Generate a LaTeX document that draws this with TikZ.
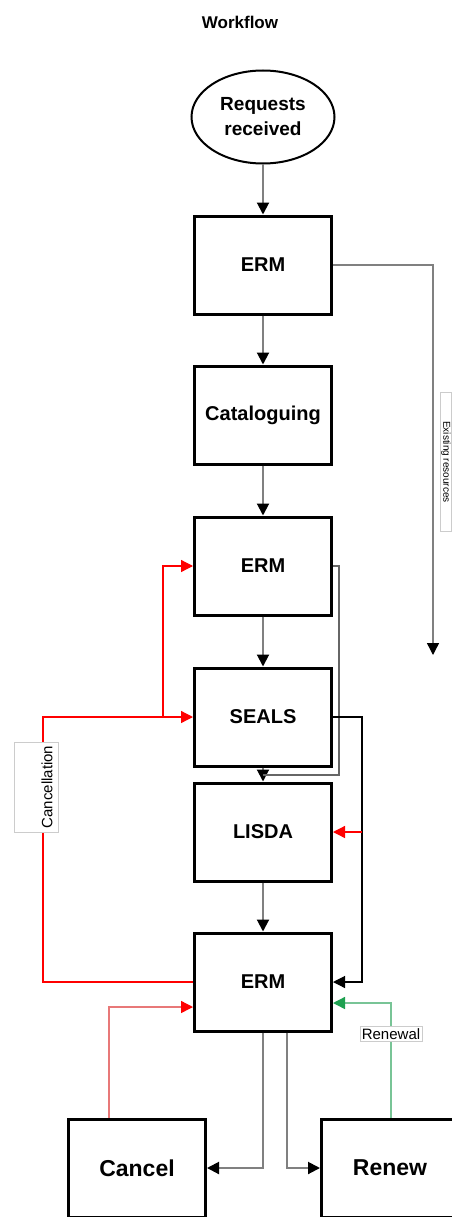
\documentclass[tikz,border=0pt]{standalone}
\usepackage{fontspec}
\setmainfont{Liberation Sans}
\usetikzlibrary{arrows.meta,shapes.geometric}
\definecolor{flowgray}{RGB}{128,128,128}
\definecolor{cancelred}{RGB}{255,0,0}
\definecolor{palered}{RGB}{232,120,120}
\definecolor{renewgreen}{RGB}{30,160,80}
\definecolor{palegreen}{RGB}{120,196,150}
\begin{document}
\begin{tikzpicture}[x=1pt,y=-1pt,
  stepbox/.style={draw=black, line width=3pt, fill=white, minimum width=137pt,
    minimum height=98pt, inner sep=0pt, font=\fontsize{20}{22}\selectfont\bfseries},
  endbox/.style={stepbox, font=\fontsize{23}{25}\selectfont\bfseries},
  tip/.style={-{Triangle[length=12pt,width=12pt,color=#1]}},
  tip/.default=black,
  flow/.style={draw=flowgray, line width=2pt, tip},
  thinflow/.style={draw=flowgray, line width=1.4pt},
  redflow/.style={draw=cancelred, line width=1.3pt, tip=cancelred},
  lbl/.style={draw=black!20, fill=white, line width=0.6pt, inner sep=2pt,
    font=\fontsize{15}{17}\selectfont},
]
\useasboundingbox (0,0) rectangle (452,1217);
\fill[white] (0,0) rectangle (452,1217);

% title
\node[font=\fontsize{17}{19}\selectfont\bfseries] (title) at (240,22) {Workflow};

% process steps
\node[ellipse, draw=black, line width=2pt, fill=white, minimum width=143pt,
  minimum height=93pt, inner sep=0pt, align=center,
  font=\fontsize{19}{25}\selectfont\bfseries] (req) at (263,117) {Requests\\received};
\node[stepbox] (erm1) at (263,265) {ERM};
\node[stepbox] (cat)  at (263,415) {Cataloguing};
\node[stepbox] (erm2) at (263,566) {ERM};
\node[stepbox] (seals) at (263,717) {SEALS};
\node[stepbox] (lisda) at (263,832) {LISDA};
\node[stepbox] (erm3) at (263,982) {ERM};
\node[endbox] (cancel) at (137,1168) {Cancel};
\node[endbox] (renew)  at (390,1168) {Renew};

% main line down the middle
\draw[flow] (req) -- (erm1);
\draw[flow] (erm1) -- (cat);
\draw[flow] (cat) -- (erm2);
\draw[flow] (erm2) -- (seals);
\draw[flow] (seals) -- (lisda);
\draw[flow] (lisda) -- (erm3);

% existing resources branch
\coordinate (exend) at (433,655);
\draw[thinflow, tip] (erm1.east) -| (exend);
\node[draw=black!20, fill=white, line width=0.6pt, inner sep=1pt, rotate=-90,
  minimum width=139pt, font=\fontsize{10}{11}\selectfont] (exlbl) at (446,462) {Existing resources};

% ERM back into LISDA
\coordinate (join) at (263,775);
\draw[draw=black!60, line width=1.4pt] (erm2.east) -- (339,566) |- (join);

% SEALS on to the final ERM
\coordinate (sealsr) at (362,717);
\coordinate (lisdar) at (362,832);
\draw[draw=black, line width=1.2pt, tip] (seals.east) -- (sealsr) |- (erm3.east);
\draw[redflow] (lisdar) -- (lisda.east);

% cancellation loop
\coordinate (cl) at (43,982);
\coordinate (cb) at (163,717);
\draw[redflow] (erm3.west) -- (cl) |- (seals.west);
\draw[redflow] (cb) |- (erm2.west);
\node[draw=black!20, fill=white, line width=0.6pt, minimum width=44pt,
  minimum height=90pt, inner sep=0pt] (cancelframe) at (36,787) {};
\node[rotate=90, font=\fontsize{15}{17}\selectfont, inner sep=0pt] (cancellbl) at (47,787) {Cancellation};

% outcomes
\draw[draw=palered, line width=1.4pt, tip=cancelred]
  ([xshift=-28pt]cancel.north) |- ([yshift=-25pt]erm3.west);
\draw[draw=palegreen, line width=1.4pt, tip=renewgreen]
  ([xshift=1pt]renew.north) |- ([yshift=-21pt]erm3.east);
\node[lbl] (renlbl) at (391,1034) {Renewal};
\draw[flow] (erm3.south) |- (cancel.east);
\draw[flow] ([xshift=24pt]erm3.south) |- (renew.west);
\end{tikzpicture}
\end{document}
